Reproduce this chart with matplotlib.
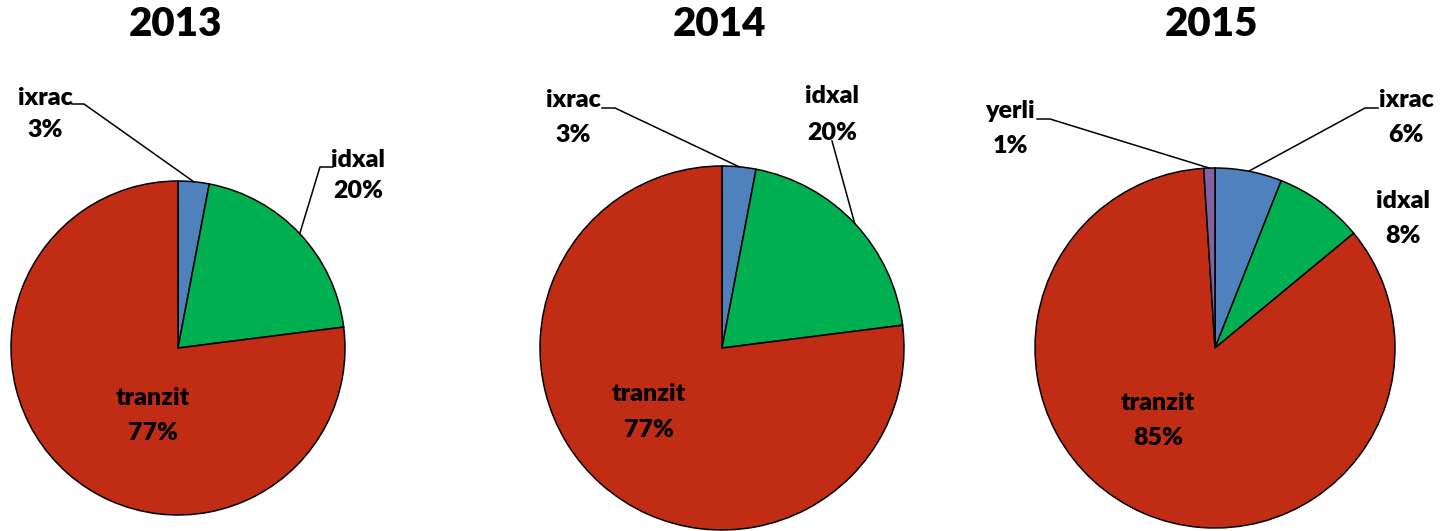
import numpy as np
import matplotlib
matplotlib.use("Agg")
import matplotlib.pyplot as plt

plt.rcParams['font.family'] = ['Lato', 'DejaVu Sans']

W, H = 1448, 531

# data
years = ['2013', '2014', '2015']
names_2013 = ['ixrac', 'idxal', 'tranzit']
vals_2013 = [3, 20, 77]
names_2014 = ['ixrac', 'idxal', 'tranzit']
vals_2014 = [3, 20, 77]
names_2015 = ['ixrac', 'idxal', 'tranzit', 'yerli']
vals_2015 = [6, 8, 85, 1]

colors = {'ixrac': '#4F81BD', 'idxal': '#00B050',
          'tranzit': '#C12D14', 'yerli': '#8064A2'}

# layout in pixels (y from top)
centers = [(178, 348), (722, 348), (1215, 348)]
radii = [167, 182, 180]
# label: (x center, baseline of name, baseline of pct, leader stub points or None)
label_pos = {
    '2013': {'ixrac': (45, 105, 137, [(72, 104), (84, 104)]),
             'idxal': (358, 167, 198, [(333, 167), (320, 167)]),
             'tranzit': (153, 405, 440, None)},
    '2014': {'ixrac': (573, 107, 142, [(602, 108), (615, 108)]),
             'idxal': (832, 103, 140, [(832, 141)]),
             'tranzit': (649, 401, 437, None)},
    '2015': {'ixrac': (1406, 107, 142, [(1378, 108), (1365, 108)]),
             'idxal': (1403, 208, 243, None),
             'tranzit': (1158, 410, 445, None),
             'yerli': (1010, 118, 153, [(1037, 119), (1050, 119)])},
}

fig = plt.figure(figsize=(W / 100, H / 100), dpi=100)
ax = fig.add_axes([0, 0, 1, 1])

all_names = [names_2013, names_2014, names_2015]
all_vals = [vals_2013, vals_2014, vals_2015]

for yr, names, vals, (cx, cy), r in zip(years, all_names, all_vals, centers, radii):
    ax.pie(vals, colors=[colors[n] for n in names], startangle=90,
           counterclock=False, center=(cx, H - cy), radius=r,
           wedgeprops=dict(edgecolor='black', linewidth=1.1))
    ax.text(cx - 3, H - 25, yr, ha='center', va='center',
            fontsize=29, fontweight='heavy')
    total = sum(vals)
    cum = 0
    for n, v in zip(names, vals):
        mid = (cum + v / 2) / total * 2 * np.pi
        cum += v
        lx, yb1, yb2, stub = label_pos[yr][n]
        ax.text(lx, H - yb1, n, ha='center', va='baseline',
                fontsize=18, fontweight='heavy')
        ax.text(lx, H - yb2, f'{v}%', ha='center', va='baseline',
                fontsize=18, fontweight='heavy')
        if stub is not None:
            ex = cx + r * np.sin(mid)
            ey = cy - r * np.cos(mid)
            pts = stub + [(ex, ey)]
            ax.plot([p[0] for p in pts], [H - p[1] for p in pts],
                    color='black', linewidth=1.1)

ax.set_xlim(0, W)
ax.set_ylim(0, H)
ax.set_aspect('equal')
ax.axis('off')

fig.savefig('out.png', dpi=100, facecolor='white')
